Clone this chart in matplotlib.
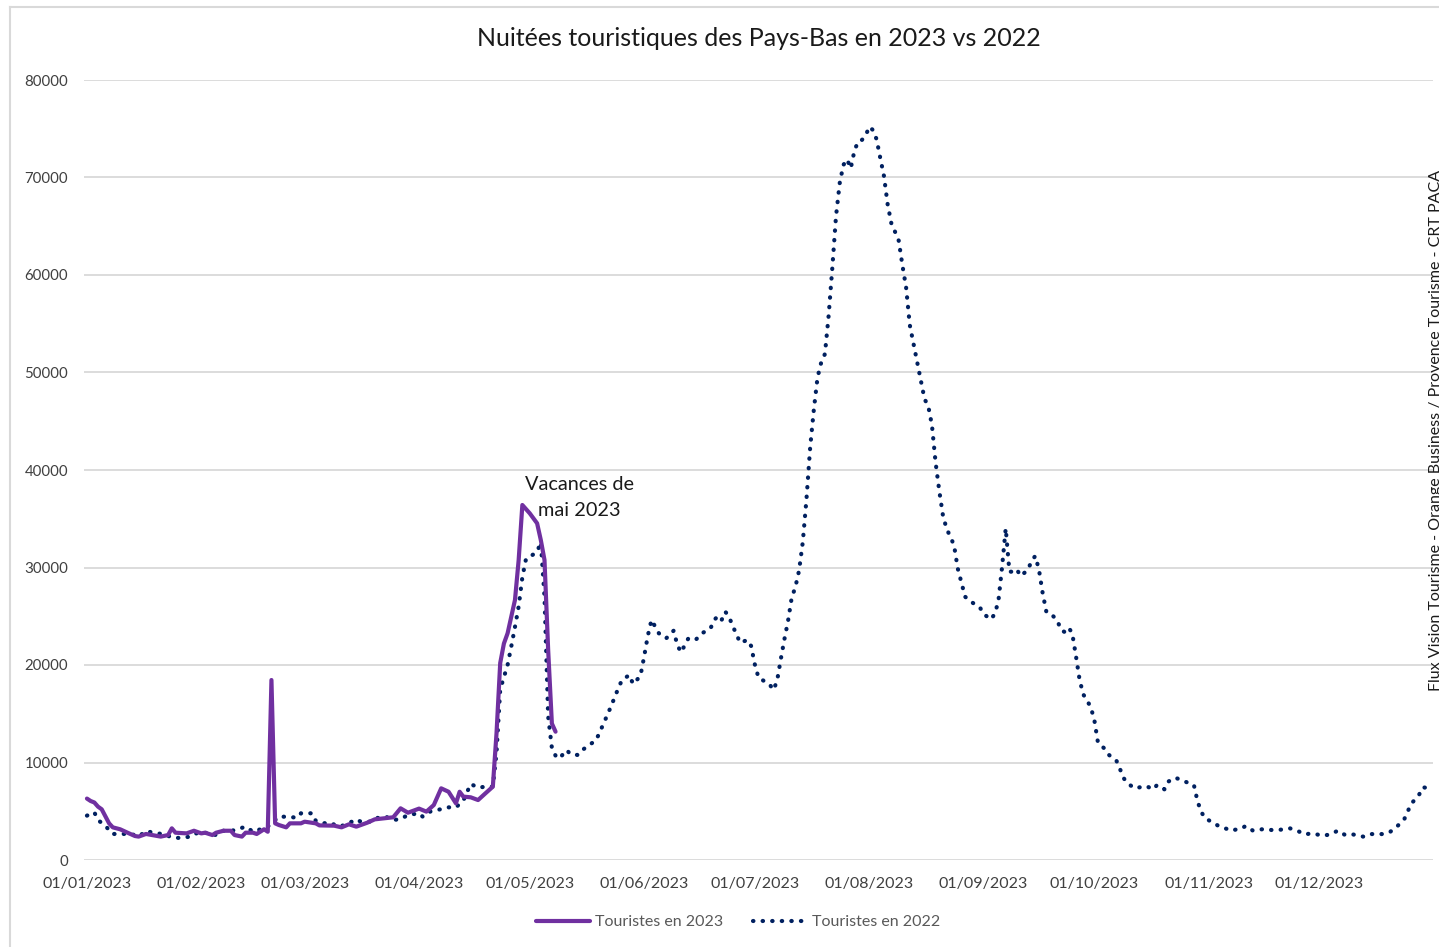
import matplotlib
matplotlib.use("Agg")
import matplotlib.pyplot as plt
import matplotlib.dates as mdates
from matplotlib.lines import Line2D
import pandas as pd

plt.rcParams.update({
    "font.family": ["Lato", "DejaVu Sans"],
    "font.size": 11,
})

start = pd.Timestamp("2023-01-01")

# Touristes en 2023 (jour de l'annee depuis le 01/01, nuitees)
days_2023 = [0, 1, 2, 3, 4, 6, 7, 9, 11, 13, 14, 16, 20, 22, 23, 24, 27, 29, 31, 32,
             34, 35, 37, 39, 40, 42, 43, 45, 46, 48, 49, 50, 51, 52, 54, 55, 58, 59,
             62, 63, 67, 69, 71, 73, 76, 78, 83, 85, 87, 90, 92, 94, 96, 98, 100,
             101, 102, 104, 106, 108, 110, 111, 112, 113, 114, 116, 117, 118, 120,
             122, 123, 124, 125, 126, 127]
vals_2023 = [6300, 6050, 5900, 5470, 5200, 3760, 3350, 3150, 2800, 2460, 2400, 2670,
             2400, 2560, 3250, 2800, 2730, 3000, 2730, 2800, 2560, 2800, 3000, 3000,
             2560, 2400, 2800, 2800, 2670, 3150, 2900, 18460, 3760, 3590, 3350, 3760,
             3760, 3930, 3760, 3550, 3520, 3350, 3660, 3420, 3830, 4170, 4380, 5300,
             4850, 5270, 4960, 5640, 7350, 7000, 5810, 7000, 6500, 6430, 6150, 6840,
             7520, 13000, 20200, 22200, 23250, 26670, 30770, 36410, 35560, 34530,
             32820, 30770, 21500, 14000, 13160]

# Touristes en 2022, ramenes sur le calendrier 2023
days_2022 = [0, 2, 3, 5, 7, 9, 12, 14, 16, 18, 21, 23, 25, 28, 30, 32, 35, 37, 39, 41,
             43, 45, 47, 49, 51, 52, 54, 57, 58, 61, 62, 64, 66, 68, 70, 73, 74, 77,
             78, 81, 83, 85, 87, 90, 91, 93, 95, 98, 100, 102, 104, 106, 108, 110,
             111, 112, 114, 115, 116, 117, 118, 119, 120, 122, 123, 124, 125, 126,
             127, 128, 130, 131, 133, 134, 138, 140, 142, 144, 145, 147, 148, 150,
             151, 152, 153, 155, 157, 159, 160, 161, 163, 165, 167, 169, 170, 171,
             172, 173, 174, 175, 176, 177, 179, 180, 181, 182, 185, 186, 187, 188,
             189, 190, 191, 192, 193, 194, 195, 196, 197, 198, 199, 200, 201, 202,
             203, 204, 205, 206, 207, 208, 209, 210, 211, 212, 213, 214, 215, 216,
             217, 218, 219, 220, 221, 222, 223, 224, 225, 226, 227, 228, 229, 230,
             231, 232, 233, 234, 235, 236, 237, 238, 239, 240, 242, 243, 245, 246,
             247, 248, 249, 250, 251, 252, 253, 255, 256, 257, 258, 259, 260, 261,
             263, 264, 265, 266, 267, 268, 269, 270, 272, 273, 274, 276, 277, 279,
             280, 281, 282, 284, 287, 289, 290, 292, 293, 295, 297, 300, 301, 302,
             303, 305, 307, 309, 310, 313, 314, 316, 319, 321, 323, 326, 328, 330,
             332, 335, 337, 339, 341, 343, 346, 348, 351, 353, 355, 357, 358, 359,
             361, 362, 364]
vals_2022 = [4550, 4890, 4100, 3490, 2670, 2670, 2670, 2400, 2970, 2800, 2630, 2320,
             2260, 2390, 2800, 2800, 2560, 3000, 2970, 3180, 3420, 2900, 3150, 3420,
             4100, 4440, 4440, 4340, 4790, 4790, 4030, 3760, 3830, 3420, 3590, 4170,
             3970, 3930, 4270, 4440, 4100, 4200, 4620, 4790, 4440, 4960, 5130, 5400,
             5400, 6090, 7800, 7420, 7520, 7520, 11000, 17500, 20000, 21900, 23900,
             26000, 29000, 30900, 31100, 31600, 32600, 27000, 14700, 11500, 10700,
             10400, 11280, 10870, 10770, 11210, 12300, 13980, 15730, 17610, 18460,
             18970, 18050, 18870, 20850, 23000, 24620, 23250, 22740, 23520, 22050,
             21300, 22740, 22600, 23320, 23760, 24610, 25030, 24610, 25470, 24960,
             24000, 23180, 22290, 22560, 21950, 20070, 18700, 18020, 17440, 18290,
             20500, 22600, 24500, 26900, 28000, 29700, 32600, 37000, 42300, 46200,
             49500, 51040, 51900, 55800, 60700, 66000, 69400, 71280, 71860, 70940,
             72750, 73700, 73840, 74250, 75210, 74870, 73920, 72000, 70150, 67250,
             65300, 64440, 63520, 61000, 58730, 54870, 52960, 51040, 49130, 47280,
             46560, 44610, 40750, 37840, 35300, 33950, 33160, 32270, 29900, 28440,
             27000, 26670, 26390, 25910, 25230, 24680, 25230, 26500, 30000, 34010,
             29570, 29570, 29820, 29130, 29740, 30670, 31180, 29800, 27400, 25480,
             25370, 24540, 23580, 23380, 23830, 23310, 21000, 18530, 17000, 15730,
             14400, 12030, 11350, 10770, 10190, 9300, 8380, 7860, 7350, 7590, 7250,
             7690, 7250, 8030, 8440, 8130, 7690, 6000, 4930, 4290, 3870, 3420, 3180,
             3010, 3250, 3490, 3010, 3180, 3080, 3080, 3250, 3010, 2630, 2730, 2490,
             2630, 3010, 2560, 2630, 2390, 2660, 2660, 2830, 3420, 4170, 5030, 5810,
             6670, 7460, 7350]

title = "Nuitées touristiques des Pays-Bas en 2023 vs 2022"
label_2023 = "Touristes en 2023"
label_2022 = "Touristes en 2022"
note = "Vacances de\nmai 2023"
source = "Flux Vision Tourisme - Orange Business / Provence Tourisme - CRT PACA"

purple = "#7030A0"
navy = "#002060"
grid = "#d9d9d9"

dates_2023 = start + pd.to_timedelta(days_2023, unit="D")
dates_2022 = start + pd.to_timedelta(days_2022, unit="D")

W, H = 1439, 947
fig = plt.figure(figsize=(W / 100, H / 100), dpi=100)
ax = fig.add_axes([84 / W, (H - 860) / H, (1433 - 84) / W, (860 - 80) / H])

ax.plot(dates_2022, vals_2022, color=navy, lw=3, linestyle=(0, (0.1, 2.2)),
        dash_capstyle="round", zorder=3)
ax.plot(dates_2023, vals_2023, color=purple, lw=3, solid_joinstyle="round",
        solid_capstyle="round", zorder=4)

ax.set_xlim(start - pd.Timedelta(days=0.8), start + pd.Timedelta(days=364.8))
ax.set_ylim(0, 80000)
ax.set_yticks(range(0, 80001, 10000))
ax.yaxis.grid(True, color=grid, lw=1.3)
ax.set_axisbelow(True)
for s in ax.spines.values():
    s.set_visible(False)

ax.xaxis.set_major_locator(mdates.MonthLocator())
ax.xaxis.set_major_formatter(mdates.DateFormatter("%d/%m/%Y"))
ax.tick_params(axis="both", length=0, colors="#404040")
ax.tick_params(axis="x", pad=12, labelsize=11.5)
ax.tick_params(axis="y", pad=11.5, labelsize=10.8)

fig.text(0.5 * (84 + 1433) / W, 1 - 38 / H, title, ha="center", va="center",
         fontsize=18, color="#1a1a1a")

ax.text(start + pd.Timedelta(days=133.5), 37200, note, ha="center", va="center",
        fontsize=14.3, color="#1a1a1a", linespacing=1.6)

fig.text(1429 / W, 1 - 430 / H, source, rotation=90, ha="left", va="center",
         fontsize=11.5, color="#1a1a1a")

handles = [
    Line2D([], [], color=purple, lw=3, solid_capstyle="round"),
    Line2D([], [], color=navy, lw=3, linestyle=(0, (0.1, 2.2)), dash_capstyle="round"),
]
leg = fig.legend(handles, [label_2023, label_2022], loc="center",
                 bbox_to_anchor=(738 / W, 1 - 922 / H), ncol=2, frameon=False,
                 fontsize=11.5, handlelength=3.4, handletextpad=0.3,
                 columnspacing=1.9)
for t in leg.get_texts():
    t.set_color("#595959")

# cadre du graphique
fig.add_artist(Line2D([10 / W, 10 / W], [0, 1 - 7 / H], color=grid, lw=1.5,
                      transform=fig.transFigure))
fig.add_artist(Line2D([10 / W, 1], [1 - 7 / H, 1 - 7 / H], color=grid, lw=1.5,
                      transform=fig.transFigure))

fig.savefig("out.png", dpi=100)
